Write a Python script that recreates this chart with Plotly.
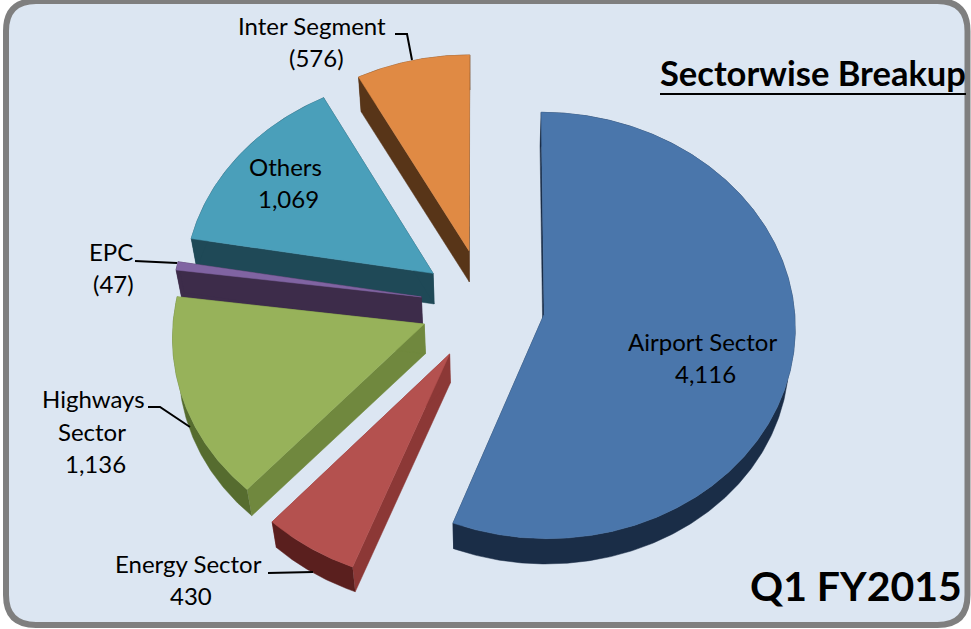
import numpy as np
import plotly.graph_objects as go

# Q1 FY2015 revenue by sector; bracketed (negative) amounts are eliminations and small losses
sectors = ["Airport Sector", "Energy Sector", "Highways Sector", "EPC", "Others", "Inter Segment"]
values = [4116, 430, 1136, -47, 1069, -576]

top_colors = ["#4A76AB", "#B4514F", "#97B25A", "#8064A2", "#4A9FBA", "#E08A44"]
radial_colors = ["#1A2D47", "#8C3836", "#70883E", "#3D2C4A", "#1F4957", "#583518"]
rim_colors = ["#1A2D47", "#5A1F1E", "#566C2F", "#3D2C4A", "#1F4957", "#583518"]

# Per-slice explosion, in units of the pie radius
explode = [0.24, 0.268, 0.258, 0.258, 0.258, 0.268]

# Label placement: text lines (name split, value appended) with centre positions
label_lines = [
    ["Airport Sector"], ["Energy Sector"], ["Highways", "Sector"], ["EPC"], ["Others"], ["Inter Segment"],
]
label_pos = [
    [(702, 341.5), (705, 373.5)],
    [(188, 563.5), (191, 595.5)],
    [(93, 398.5), (92, 431.5), (95, 463.5)],
    [(111, 251.5), (113, 283.5)],
    [(285, 166.5), (288, 198.5)],
    [(312, 25.5), (316, 57.5)],
]

# Leader lines as SVG paths in page pixels
leaders = [
    "M395,34 L407,34 L412,60",
    "M135,261 L177,263",
    "M148,407 L160,407 L190,427",
    "M268,573 L313,572",
]

# Projection of the tilted pie onto the page
CX, CY = 485, 305
FX, FY, PERSP = 250, 211.6, 0.0525
DEPTH = 30
FLOOR_SCALE = 0.98  # the lower face sits farther from the eye, so it draws slightly smaller


def project(px, py):
    d = 1 + PERSP * py
    return CX + FX * px / d, CY - FY * py / d


def floor(x, y):
    return CX + (x - CX) * FLOOR_SCALE, CY + (y - CY) * FLOOR_SCALE + DEPTH


def fmt(v):
    return f"({abs(v):,})" if v < 0 else f"{v:,}"


total = sum(abs(v) for v in values)
spans = [abs(v) / total * 2 * np.pi for v in values]
starts = np.concatenate(([0], np.cumsum(spans)[:-1]))

fig = go.Figure()


def polygon(xs, ys, color, name):
    fig.add_trace(go.Scatter(
        x=xs, y=ys, mode="lines", fill="toself", fillcolor=color,
        line=dict(color=color, width=0.5), name=name, hoverinfo="name", showlegend=False,
    ))


# Painter's order: farthest slices first
for i in [5, 4, 3, 2, 1, 0]:
    t = np.linspace(starts[i], starts[i] + spans[i], max(int(np.degrees(spans[i]) * 2), 4))
    mid = starts[i] + spans[i] / 2
    ox, oy = explode[i] * np.sin(mid), explode[i] * np.cos(mid)

    ax, ay = project(ox, oy)
    rx, ry = project(ox + np.sin(t), oy + np.cos(t))
    bax, bay = floor(ax, ay)
    brx, bry = floor(rx, ry)

    # Radial walls at both cut edges, then the curved rim, then the top face
    for j in (0, -1):
        polygon([ax, rx[j], brx[j], bax, ax], [ay, ry[j], bry[j], bay, ay], radial_colors[i], sectors[i])
    polygon(np.concatenate([rx, brx[::-1]]), np.concatenate([ry, bry[::-1]]), rim_colors[i], sectors[i])
    polygon(np.concatenate([[ax], rx, [ax]]), np.concatenate([[ay], ry, [ay]]), top_colors[i], sectors[i])

annotations = []
LABEL_FONT = dict(family="Lato", size=24, color="#000000")
for lines, v, pos in zip(label_lines, values, label_pos):
    for text, (x, y) in zip(lines + [fmt(v)], pos):
        annotations.append(dict(x=x, y=y, text=text, showarrow=False, font=LABEL_FONT,
                                xanchor="center", yanchor="middle"))

annotations.append(dict(x=813, y=72, text="<b>Sectorwise Breakup</b>", showarrow=False,
                        font=dict(family="Lato", size=34.5, color="#000000"), xanchor="center", yanchor="middle"))
annotations.append(dict(x=856, y=585, text="<b>Q1 FY2015</b>", showarrow=False,
                        font=dict(family="Lato", size=41, color="#000000"), xanchor="center", yanchor="middle"))

# Rounded panel behind the pie
L, R, T, B, C = 6, 967.5, 1, 625, 30
panel = (f"M{L + C},{T} L{R - C},{T} Q{R},{T} {R},{T + C} L{R},{B - C} Q{R},{B} {R - C},{B} "
         f"L{L + C},{B} Q{L},{B} {L},{B - C} L{L},{T + C} Q{L},{T} {L + C},{T} Z")
shapes = [dict(type="path", path=panel, xref="x", yref="y", fillcolor="#DCE6F2",
               line=dict(color="#7F7F7F", width=6), layer="below")]
for p in leaders:
    shapes.append(dict(type="path", path=p, xref="x", yref="y", line=dict(color="#000000", width=2), layer="above"))
shapes.append(dict(type="line", x0=660, x1=966, y0=94, y1=94, xref="x", yref="y",
                   line=dict(color="#000000", width=2)))

fig.update_layout(
    width=971, height=629, margin=dict(l=0, r=0, t=0, b=0),
    paper_bgcolor="#FFFFFF", plot_bgcolor="rgba(0,0,0,0)",
    xaxis=dict(range=[0, 971], visible=False, fixedrange=True),
    yaxis=dict(range=[629, 0], visible=False, fixedrange=True),
    shapes=shapes, annotations=annotations, showlegend=False,
)

fig.write_html("out.html", config=dict(displayModeBar=False))
